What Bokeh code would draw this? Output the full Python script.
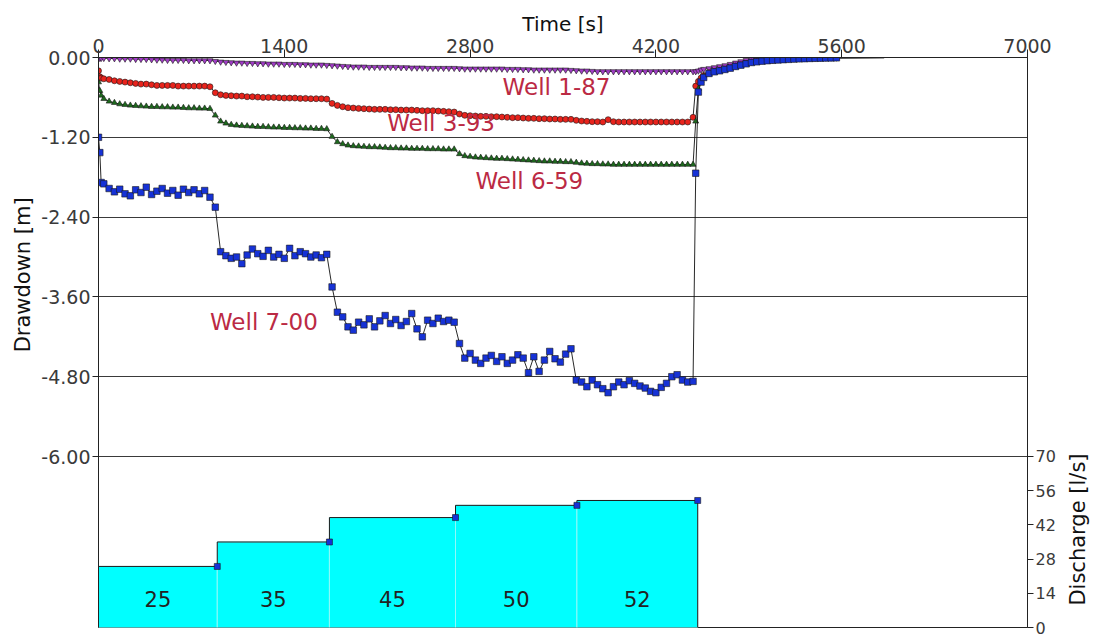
import math
from bokeh.plotting import figure
from bokeh.layouts import row
from bokeh.models import Range1d, FixedTicker, Label, PrintfTickFormatter, ColumnDataSource, LinearAxis
from bokeh.embed import file_html
from bokeh.resources import INLINE
from bokeh.core.properties import value

# ---------------- data ----------------
# time of samples during pumping [s]
T = [0, 10, 20, 40, 80, 120, 160, 200, 240, 280, 320, 360, 400, 440, 480, 520, 560, 600, 640, 680, 720, 760, 800, 840,
     880, 920, 960, 1000, 1040, 1080, 1120, 1160, 1200, 1240, 1280, 1320, 1360, 1400, 1440, 1480, 1520, 1560, 1600, 1640, 1680, 1720,
     1760, 1800, 1840, 1880, 1920, 1960, 2000, 2040, 2080, 2120, 2160, 2200, 2240, 2280, 2320, 2360, 2400, 2440, 2480, 2520, 2560, 2600, 2640, 2680,
     2720, 2760, 2800, 2840, 2880, 2920, 2960, 3000, 3040, 3080, 3120, 3160, 3200, 3240, 3280, 3320, 3360, 3400, 3440, 3480, 3520, 3560,
     3600, 3640, 3680, 3720, 3760, 3800, 3840, 3880, 3920, 3960, 4000, 4040, 4080, 4120, 4160, 4200, 4240, 4280, 4320, 4360, 4400, 4440, 4480]
# time of samples during recovery [s]
TR = [4500, 4520, 4540, 4560, 4600, 4640, 4680, 4720, 4760, 4800, 4840, 4880, 4920, 4960, 5000, 5040, 5080, 5120,
      5160, 5200, 5240, 5280, 5320, 5360, 5400, 5440, 5480, 5520, 5560, 5920]

W187 = [-0.01, -0.01, -0.01, -0.01, -0.015, -0.015, -0.02, -0.02, -0.02, -0.025, -0.025, -0.025, -0.03, -0.035, -0.035, -0.04, -0.04, -0.04, -0.04, -0.045, -0.045, -0.045, -0.045, -0.045,
        -0.055, -0.065, -0.07, -0.075, -0.08, -0.08, -0.085, -0.085, -0.09, -0.09, -0.095, -0.095, -0.095, -0.10, -0.10, -0.10, -0.105, -0.105, -0.11, -0.11, -0.11, -0.115,
        -0.12, -0.125, -0.13, -0.135, -0.14, -0.14, -0.14, -0.145, -0.145, -0.145, -0.145, -0.145, -0.145, -0.15, -0.15, -0.155, -0.155, -0.155, -0.16, -0.16, -0.16, -0.16, -0.16, -0.16,
        -0.165, -0.17, -0.17, -0.17, -0.17, -0.17, -0.17, -0.17, -0.17, -0.175, -0.175, -0.175, -0.18, -0.18, -0.185, -0.185, -0.185, -0.185, -0.185, -0.185, -0.185, -0.19,
        -0.195, -0.20, -0.20, -0.205, -0.21, -0.21, -0.21, -0.21, -0.21, -0.21, -0.21, -0.21, -0.21, -0.21, -0.21, -0.21, -0.21, -0.21, -0.21, -0.21, -0.21, -0.21, -0.21]
W187_R = [-0.21, -0.20, -0.185, -0.175, -0.165, -0.15, -0.135, -0.12, -0.10, -0.08, -0.06, -0.04, -0.025, -0.02, -0.016,
          -0.013, -0.011, -0.009, -0.008, -0.007, -0.006, -0.005, -0.004, -0.004, -0.003, -0.003, -0.002, -0.002, -0.002, -0.001]

W393 = [-0.20, -0.29, -0.31, -0.32, -0.33, -0.35, -0.36, -0.37, -0.38, -0.39, -0.40, -0.40, -0.41, -0.42, -0.42, -0.42, -0.42, -0.43, -0.43, -0.43, -0.43, -0.43, -0.43, -0.44,
        -0.53, -0.56, -0.57, -0.575, -0.58, -0.58, -0.59, -0.59, -0.595, -0.60, -0.60, -0.60, -0.605, -0.61, -0.61, -0.61, -0.615, -0.615, -0.62, -0.62, -0.62, -0.625,
        -0.69, -0.72, -0.74, -0.755, -0.76, -0.765, -0.77, -0.775, -0.78, -0.78, -0.78, -0.785, -0.785, -0.79, -0.79, -0.79, -0.795, -0.80, -0.80, -0.80, -0.805, -0.81, -0.815, -0.82,
        -0.85, -0.87, -0.875, -0.88, -0.885, -0.885, -0.89, -0.89, -0.895, -0.90, -0.905, -0.905, -0.91, -0.915, -0.915, -0.92, -0.92, -0.925, -0.925, -0.93, -0.93, -0.93,
        -0.945, -0.955, -0.96, -0.965, -0.965, -0.97, -0.935, -0.965, -0.97, -0.97, -0.97, -0.97, -0.97, -0.97, -0.97, -0.97, -0.97, -0.97, -0.97, -0.97, -0.97, -0.97, -0.90]
W393_R = [-0.43, -0.36, -0.31, -0.27, -0.23, -0.21, -0.195, -0.175, -0.155, -0.13, -0.11, -0.09, -0.07, -0.06, -0.05,
          -0.045, -0.04, -0.035, -0.03, -0.026, -0.022, -0.019, -0.016, -0.013, -0.011, -0.009, -0.007, -0.006, -0.005, -0.002]

W659 = [-0.37, -0.50, -0.57, -0.62, -0.66, -0.68, -0.70, -0.71, -0.72, -0.725, -0.73, -0.735, -0.74, -0.74, -0.745, -0.745, -0.75, -0.75, -0.755, -0.76, -0.76, -0.765, -0.765, -0.77,
        -0.87, -0.96, -0.99, -1.01, -1.02, -1.025, -1.03, -1.035, -1.04, -1.04, -1.045, -1.05, -1.05, -1.055, -1.055, -1.06, -1.06, -1.065, -1.065, -1.07, -1.07, -1.075,
        -1.19, -1.27, -1.30, -1.32, -1.33, -1.335, -1.34, -1.345, -1.345, -1.35, -1.355, -1.36, -1.36, -1.365, -1.365, -1.37, -1.37, -1.37, -1.375, -1.375, -1.375, -1.38, -1.38, -1.38,
        -1.45, -1.48, -1.49, -1.50, -1.505, -1.51, -1.515, -1.52, -1.52, -1.525, -1.53, -1.535, -1.54, -1.545, -1.55, -1.555, -1.56, -1.56, -1.565, -1.565, -1.57, -1.57,
        -1.58, -1.59, -1.595, -1.60, -1.60, -1.605, -1.605, -1.61, -1.61, -1.61, -1.61, -1.61, -1.61, -1.61, -1.61, -1.61, -1.61, -1.61, -1.61, -1.61, -1.61, -1.61, -1.61]
W659_R = [-0.96, -0.47, -0.35, -0.28, -0.25, -0.225, -0.205, -0.185, -0.165, -0.14, -0.12, -0.10, -0.08, -0.07, -0.06,
          -0.052, -0.045, -0.04, -0.034, -0.03, -0.026, -0.022, -0.019, -0.016, -0.013, -0.011, -0.009, -0.007, -0.006, -0.002]

W700 = [-1.20, -1.43, -1.88, -1.90, -1.97, -2.02, -1.98, -2.05, -2.08, -1.99, -2.03, -1.95, -2.06, -2.01, -1.97, -2.04, -2.00, -2.07, -1.98, -2.03, -1.99, -2.05, -2.00, -2.10,
        -2.25, -2.92, -2.98, -3.02, -3.00, -3.10, -2.97, -2.88, -2.95, -2.99, -2.90, -3.00, -2.96, -3.02, -2.87, -2.98, -2.92, -2.95, -3.00, -2.97, -3.01, -2.96,
        -3.45, -3.83, -3.90, -4.05, -4.10, -3.98, -4.02, -3.93, -4.05, -3.96, -3.88, -4.00, -3.94, -4.03, -3.97, -3.85, -4.08, -4.20, -3.95, -4.00, -3.92, -3.97, -3.95, -3.98,
        -4.30, -4.52, -4.45, -4.55, -4.60, -4.52, -4.48, -4.57, -4.50, -4.60, -4.55, -4.47, -4.52, -4.74, -4.50, -4.72, -4.55, -4.42, -4.53, -4.58, -4.46, -4.38,
        -4.85, -4.88, -4.95, -4.85, -4.92, -4.98, -5.04, -4.95, -4.88, -4.92, -4.86, -4.90, -4.94, -4.97, -5.02, -5.04, -4.96, -4.90, -4.80, -4.77, -4.85, -4.88, -4.87]
W700_R = [-1.74, -0.52, -0.37, -0.30, -0.24, -0.215, -0.20, -0.18, -0.16, -0.135, -0.115, -0.095, -0.075, -0.065, -0.055,
          -0.048, -0.042, -0.037, -0.032, -0.028, -0.024, -0.020, -0.017, -0.014, -0.012, -0.010, -0.008, -0.006, -0.005, -0.002]

WELL_NAMES = ["Well 1-87", "Well 3-93", "Well 6-59", "Well 7-00"]

# discharge steps [l/s]
Q_START = [0, 895, 1740, 2690, 3605]
Q_END = 4515
Q = [25, 35, 45, 50, 52]

X_TICKS = [0, 1400, 2800, 4200, 5600, 7000]
Y_TICKS = [-6.0, -4.8, -3.6, -2.4, -1.2, 0.0]
Q_TICKS = [0, 14, 28, 42, 56, 70]

# ---------------- styling ----------------
FONT = "DejaVu Sans"
LABEL_RED = "#bb2a44"
TICK_COL = "#3a3a3a"
AX_COL = "#222222"
H = 640
LEFT_W, RIGHT_W = 38, 34
MAIN_W = 1093 - LEFT_W - RIGHT_W

# drawdown axis shares the frame with the discharge panel below it:
# -6 m sits where 70 l/s is; frame bottom is 0 l/s
DD_BOTTOM = -8.571
Q_TOP = 233.33

p = figure(width=MAIN_W, height=H, x_range=Range1d(0, 7000), y_range=Range1d(DD_BOTTOM, 0),
           x_axis_location="above", y_axis_location="left",
           output_backend="svg", toolbar_location=None)
p.extra_y_ranges = {"q": Range1d(0, Q_TOP)}
p.min_border_left = 97 - LEFT_W
p.min_border_right = 66 - RIGHT_W
p.min_border_top = 57
p.min_border_bottom = 13
p.outline_line_color = AX_COL
p.outline_line_width = 1
p.background_fill_color = "white"
p.border_fill_color = "white"

xa = p.xaxis[0]
xa.ticker = FixedTicker(ticks=X_TICKS)
xa.axis_label = "Time [s]"
xa.axis_label_text_font = FONT
xa.axis_label_text_font_size = "20px"
xa.axis_label_text_font_style = "normal"
xa.axis_label_text_color = "#111111"
xa.axis_label_standoff = 0
xa.major_label_text_font = FONT
xa.major_label_text_font_size = "19px"
xa.major_label_text_color = TICK_COL
xa.major_label_standoff = -3
xa.major_tick_out = 8
xa.major_tick_in = 0
xa.minor_tick_out = 0
xa.minor_tick_in = 0
xa.axis_line_color = AX_COL
xa.major_tick_line_color = AX_COL

ya = p.yaxis[0]
ya.ticker = FixedTicker(ticks=Y_TICKS)
ya.formatter = PrintfTickFormatter(format="%.2f")
ya.major_label_text_font = FONT
ya.major_label_text_font_size = "19px"
ya.major_label_text_color = TICK_COL
ya.major_label_standoff = 2
ya.major_tick_out = 6
ya.major_tick_in = 0
ya.minor_tick_out = 0
ya.minor_tick_in = 0
ya.axis_line_color = AX_COL
ya.major_tick_line_color = AX_COL

ra = LinearAxis(y_range_name="q", ticker=FixedTicker(ticks=Q_TICKS))
ra.major_label_text_font = FONT
ra.major_label_text_font_size = "16px"
ra.major_label_text_color = TICK_COL
ra.major_label_standoff = 2
ra.major_tick_out = 6
ra.major_tick_in = 0
ra.minor_tick_out = 0
ra.minor_tick_in = 0
ra.axis_line_color = AX_COL
ra.major_tick_line_color = AX_COL
p.add_layout(ra, "right")

p.xgrid.visible = False
p.ygrid.ticker = FixedTicker(ticks=Y_TICKS)
p.ygrid.grid_line_color = "#3a3a3a"
p.ygrid.grid_line_width = 1

# ---------------- discharge panel ----------------
q_right = Q_START[1:] + [Q_END]
p.quad(left=Q_START, right=q_right, bottom=[0] * len(Q), top=Q, y_range_name="q",
       fill_color="#00ffff", line_color="#8ff8f8", line_width=1)
p.step(x=Q_START + [Q_END], y=Q + [0], mode="after", y_range_name="q",
       line_color="#1a1a1a", line_width=1)
p.scatter(x=q_right, y=Q, y_range_name="q", marker="square", size=6, fill_color="#1632d6",
          line_color="#1a1a1a", line_width=0.6)
mids = [(a + b) / 2 for a, b in zip(Q_START, q_right)]
p.text(x=mids, y=[11.5] * len(Q), text=[str(q) for q in Q], y_range_name="q",
       text_font=value(FONT), text_font_size="21px", text_color="#222222",
       text_align="center", text_baseline="middle")

# ---------------- drawdown series ----------------
series = [
    (W187, W187_R, "inverted_triangle", "#a23cc8", 6),
    (W393, W393_R, "circle", "#e8231c", 6),
    (W659, W659_R, "triangle", "#1d6a1d", 6),
    (W700, W700_R, "square", "#1632d6", 6.5),
]
for main_vals, rec_vals, marker, color, size in series:
    n1 = min(len(T), len(main_vals))
    n2 = min(len(TR), len(rec_vals))
    tt = T[:n1] + TR[:n2]
    vv = main_vals[:n1] + rec_vals[:n2]
    src = ColumnDataSource(dict(t=tt, d=vv))
    p.line("t", "d", source=src, line_color="#111111", line_width=0.9)
    msrc = ColumnDataSource(dict(t=tt[:-1], d=vv[:-1]))
    p.scatter("t", "d", source=msrc, marker=marker, size=size,
              fill_color=color, line_color="#1a1a1a", line_width=0.6)

label_pos = [(3045, -0.445), (2175, -0.98), (2840, -1.85), (840, -3.975)]
for name, (lx, ly) in zip(WELL_NAMES, label_pos):
    p.add_layout(Label(x=lx, y=ly, text=name, text_font=FONT, text_font_size="23px",
                       text_color=LABEL_RED, text_align="left", text_baseline="middle"))


# ---------------- side strips carrying the vertical axis titles ----------------
def side_strip(w, text, cx, cy):
    s = figure(width=w, height=H, x_range=Range1d(0, w), y_range=Range1d(0, H),
               x_axis_location=None, y_axis_location=None,
               output_backend="svg", toolbar_location=None, min_border=0)
    s.outline_line_color = None
    s.background_fill_color = "white"
    s.border_fill_color = "white"
    for g in s.grid:
        g.visible = False
    for a in s.axis:
        a.visible = False
    s.add_layout(Label(x=cx, y=H - cy, text=text, angle=math.pi / 2,
                       text_font=FONT, text_font_size="21px", text_color="#111111",
                       text_align="center", text_baseline="middle"))
    return s


left_strip = side_strip(LEFT_W, "Drawdown [m]", 22, 244)
right_strip = side_strip(RIGHT_W, "Discharge [l/s]", 1077 - (1093 - RIGHT_W), 530)

layout = row(left_strip, p, right_strip, spacing=0)
open("out.html", "w").write(file_html(layout, INLINE))
